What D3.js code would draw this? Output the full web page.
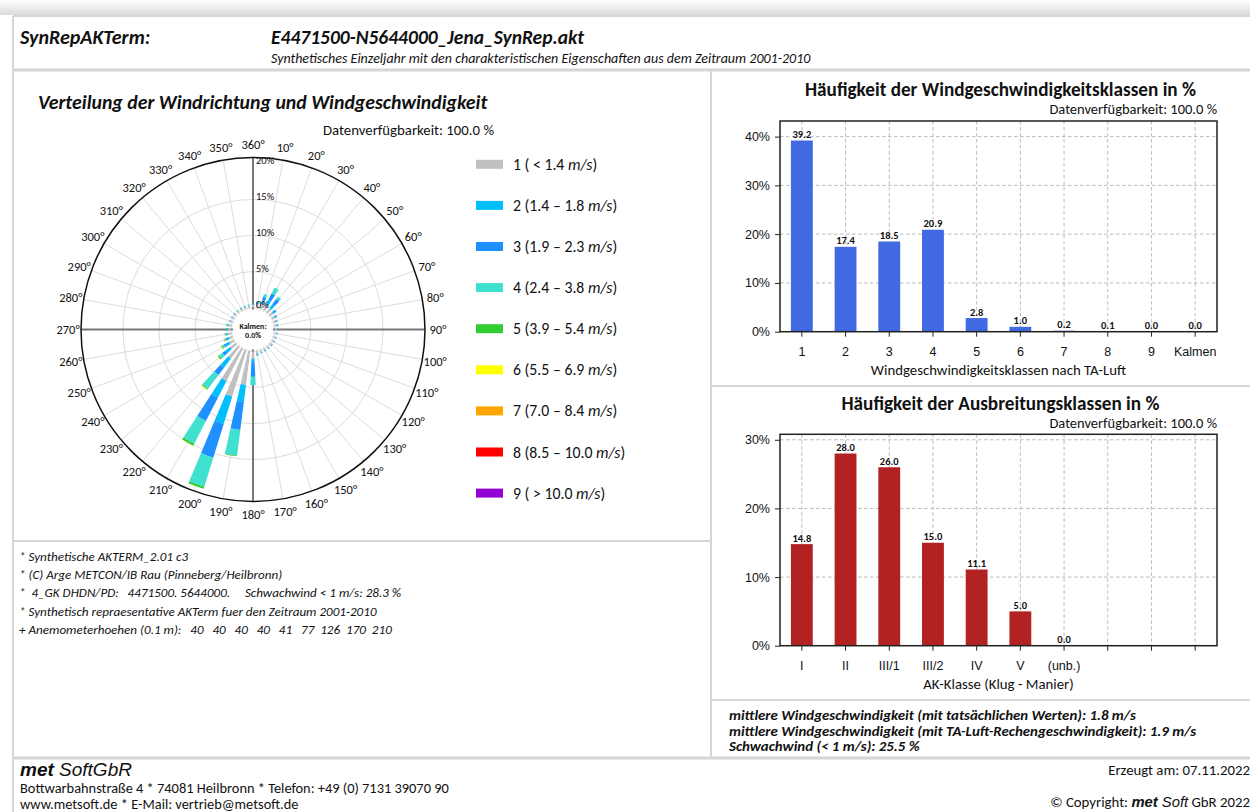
<!DOCTYPE html>
<html>
<head>
<meta charset="utf-8">
<script src="https://cdn.jsdelivr.net/npm/d3@7"></script>
<style>
	body { margin: 0; background: #fff; }
	svg { display: block; font-family: Carlito, Lato, 'Open Sans', sans-serif; }
	text { fill: #111; }
	.pre { white-space: pre; }
</style>
</head>
<body>
<svg id="seite" width="1250" height="812"></svg>
<script>
/* global d3 */

// Windrichtungen (Sektormitte in Grad)
var richtungen = [0, 10, 20, 30, 40, 50, 60, 70, 80, 90, 100, 110, 120, 130, 140, 150, 160, 170, 180, 190, 200, 210, 220, 230, 240, 250, 260, 270, 280, 290, 300, 310, 320, 330, 340, 350];
// Anteil je Richtung und Geschwindigkeitsklasse in %
var klasse1 = [0.4, 0.5, 0.7, 0.8, 0.7, 0.5, 0.4, 0.3, 0.3, 0.3, 0.3, 0.3, 0.3, 0.3, 0.3, 0.3, 0.35, 0.4, 1.0, 4.7, 6.7, 5.0, 2.0, 1.0, 0.7, 0.5, 0.5, 0.4, 0.4, 0.35, 0.3, 0.3, 0.3, 0.3, 0.3, 0.35];
var klasse2 = [0.15, 0.25, 0.5, 0.8, 0.7, 0.3, 0.2, 0.15, 0.15, 0.1, 0.1, 0.1, 0.1, 0.1, 0.1, 0.1, 0.1, 0.15, 0.5, 2.4, 4.0, 2.6, 1.6, 0.8, 0.5, 0.3, 0.2, 0.15, 0.1, 0.1, 0.1, 0.1, 0.1, 0.1, 0.1, 0.1];
var klasse3 = [0.05, 0.1, 0.5, 1.0, 0.9, 0.2, 0.1, 0.05, 0.05, 0, 0, 0, 0, 0, 0, 0, 0, 0.05, 2.0, 3.9, 4.9, 3.65, 1.3, 0.5, 0.3, 0.15, 0.05, 0.05, 0.05, 0, 0, 0, 0, 0, 0, 0];
var klasse4 = [0, 0.05, 0.4, 0.9, 0.4, 0.1, 0, 0, 0, 0, 0, 0, 0, 0, 0, 0, 0, 0, 1.2, 3.6, 4.2, 3.55, 2.4, 0.6, 0.3, 0.1, 0.1, 0.05, 0.1, 0, 0, 0, 0, 0, 0, 0];
var klasse5 = [0, 0, 0, 0, 0, 0, 0, 0, 0, 0, 0, 0, 0, 0, 0, 0, 0, 0, 0, 0.1, 0.3, 0.3, 0.15, 0.2, 0.15, 0.05, 0.05, 0.05, 0.07, 0, 0, 0, 0, 0, 0, 0];
var klasse6 = [0, 0, 0, 0, 0, 0, 0, 0, 0, 0, 0, 0, 0, 0, 0, 0, 0, 0, 0, 0, 0, 0.05, 0.1, 0.05, 0.1, 0.05, 0, 0, 0, 0, 0, 0, 0, 0, 0, 0];
var klasse7 = [0, 0, 0, 0, 0, 0, 0, 0, 0, 0, 0, 0, 0, 0, 0, 0, 0, 0, 0, 0, 0, 0, 0, 0, 0, 0.05, 0.05, 0, 0, 0, 0, 0, 0, 0, 0, 0];
var klasse8 = [0, 0, 0, 0, 0, 0, 0, 0, 0, 0, 0, 0, 0, 0, 0, 0, 0, 0, 0, 0, 0, 0, 0, 0, 0, 0.03, 0, 0, 0, 0, 0, 0, 0, 0, 0, 0];
var klasse9 = [0, 0, 0, 0, 0, 0, 0, 0, 0, 0, 0, 0, 0, 0, 0, 0, 0, 0, 0, 0, 0, 0, 0, 0, 0, 0, 0, 0, 0, 0, 0, 0, 0, 0, 0, 0];
var klassenFarben = ['#c0c0c0', '#00bfff', '#1e90ff', '#40e0d0', '#32cd32', '#ffff00', '#ffa500', '#ff0000', '#9400d3'];
var klassenNamen = [['1 ( < 1.4 ', 'm/s', ')'], ['2 (1.4 \u2013 1.8 ', 'm/s', ')'], ['3 (1.9 \u2013 2.3 ', 'm/s', ')'], ['4 (2.4 \u2013 3.8 ', 'm/s', ')'], ['5 (3.9 \u2013 5.4 ', 'm/s', ')'], ['6 (5.5 \u2013 6.9 ', 'm/s', ')'], ['7 (7.0 \u2013 8.4 ', 'm/s', ')'], ['8 (8.5 \u2013 10.0 ', 'm/s', ')'], ['9 ( > 10.0 ', 'm/s', ')']];
var roseRinge = [0, 5, 10, 15, 20];

// Balkendiagramme
var wgKlassen = ['1', '2', '3', '4', '5', '6', '7', '8', '9', 'Kalmen'];
var wgWerte = [39.2, 17.4, 18.5, 20.9, 2.8, 1.0, 0.2, 0.1, 0.0, 0.0];
var wgTicks = [0, 10, 20, 30, 40];
var akKlassen = ['I', 'II', 'III/1', 'III/2', 'IV', 'V', '(unb.)', '', '', ''];
var akWerte = [14.8, 28.0, 26.0, 15.0, 11.1, 5.0, 0.0];
var akTicks = [0, 10, 20, 30];

// Texte
var notizen = [
	'* Synthetische AKTERM_2.01 c3',
	'* (C) Arge METCON/IB Rau (Pinneberg/Heilbronn)',
	'*  4_GK DHDN/PD:   4471500. 5644000.     Schwachwind < 1 m/s: 28.3 %',
	'* Synthetisch repraesentative AKTerm fuer den Zeitraum 2001-2010',
	'+ Anemometerhoehen (0.1 m):   40   40   40   40   41   77  126  170  210'
];
var kennwerte = [
	'mittlere Windgeschwindigkeit (mit tats\u00e4chlichen Werten): 1.8 m/s',
	'mittlere Windgeschwindigkeit (mit TA-Luft-Rechengeschwindigkeit): 1.9 m/s',
	'Schwachwind (< 1 m/s): 25.5 %'
];

var svg = d3.select('#seite');

/* Rahmen und Trennlinien */
var defs = svg.append('defs');
var grad = defs.append('linearGradient').attr('id', 'schatten').attr('x1', 0).attr('x2', 0).attr('y1', 0).attr('y2', 1);
grad.append('stop').attr('offset', '0%').attr('stop-color', '#ffffff');
grad.append('stop').attr('offset', '100%').attr('stop-color', '#dadada');
svg.append('rect').attr('x', 0).attr('y', 0).attr('width', 1250).attr('height', 15).attr('fill', 'url(#schatten)');
var linien = [
	[13, 16, 1250, 16, 2], [13, 16, 13, 812, 2], [13, 70, 1250, 70, 3], [711, 70, 711, 758, 2],
	[13, 541, 711, 541, 2], [711, 386, 1250, 386, 2], [711, 700, 1250, 700, 2], [13, 758, 1250, 758, 3]
];
svg.append('g').selectAll('line').data(linien).enter().append('line')
	.attr('x1', d => d[0]).attr('y1', d => d[1]).attr('x2', d => d[2]).attr('y2', d => d[3])
	.attr('stroke', '#d6d6d6').attr('stroke-width', d => d[4]);

/* Kopf */
svg.append('text').attr('x', 20).attr('y', 43.5).attr('font-size', 20).attr('font-weight', 'bold').attr('font-style', 'italic').text('SynRepAKTerm:');
svg.append('text').attr('x', 271).attr('y', 43.5).attr('font-size', 19.5).attr('font-weight', 'bold').attr('font-style', 'italic').text('E4471500-N5644000_Jena_SynRep.akt');
svg.append('text').attr('x', 271).attr('y', 62.5).attr('font-size', 14).attr('font-style', 'italic').text('Synthetisches Einzeljahr mit den charakteristischen Eigenschaften aus dem Zeitraum 2001-2010');

/* Windrose */
var cx = 253, cy = 329.5, rAussen = 172;
var rScale = d3.scaleLinear().domain([0, 20]).range([22, 166]);
var rose = svg.append('g').attr('transform', 'translate(' + cx + ',' + cy + ')');
svg.append('text').attr('x', 38).attr('y', 108.5).attr('font-size', 19.8).attr('font-weight', 'bold').attr('font-style', 'italic').text('Verteilung der Windrichtung und Windgeschwindigkeit');
svg.append('text').attr('x', 494).attr('y', 134.5).attr('text-anchor', 'end').attr('font-size', 14.8).text('Datenverf\u00fcgbarkeit: 100.0 %');

rose.selectAll('.ring').data(roseRinge.slice(0, 4)).enter().append('circle')
	.attr('r', d => rScale(d)).attr('fill', 'none').attr('stroke', '#dcdcdc').attr('stroke-width', 1);
rose.selectAll('.speiche').data(richtungen).enter().append('line')
	.attr('x1', 0).attr('y1', 0)
	.attr('x2', d => rAussen * Math.sin(d * Math.PI / 180)).attr('y2', d => -rAussen * Math.cos(d * Math.PI / 180))
	.attr('stroke', '#dcdcdc').attr('stroke-width', 1);
rose.selectAll('.achse').data([0, 90]).enter().append('line')
	.attr('x1', d => -rAussen * Math.sin(d * Math.PI / 180)).attr('y1', d => rAussen * Math.cos(d * Math.PI / 180))
	.attr('x2', d => rAussen * Math.sin(d * Math.PI / 180)).attr('y2', d => -rAussen * Math.cos(d * Math.PI / 180))
	.attr('stroke', '#777').attr('stroke-width', 2);
rose.append('circle').attr('r', rAussen).attr('fill', 'none').attr('stroke', '#111').attr('stroke-width', 1.5);

// gestapelte Sektoren
var klassen = [klasse1, klasse2, klasse3, klasse4, klasse5, klasse6, klasse7, klasse8, klasse9];
var sektoren = [];
richtungen.forEach(function (dir, i) {
	var summe = 0;
	klassen.forEach(function (werte, k) {
		if (werte[i] > 0) {
			sektoren.push({dir: dir, von: summe, bis: summe + werte[i], k: k});
		}
		summe += werte[i];
	});
});
var halbBreite = 2.8 * Math.PI / 180;
var arc = d3.arc()
	.innerRadius(d => rScale(d.von)).outerRadius(d => rScale(d.bis))
	.startAngle(d => d.dir * Math.PI / 180 - halbBreite).endAngle(d => d.dir * Math.PI / 180 + halbBreite);
rose.selectAll('.sektor').data(sektoren).enter().append('path')
	.attr('d', arc).attr('fill', d => klassenFarben[d.k]);

// Kalmen-Loch
rose.append('circle').attr('r', 20).attr('fill', '#fff');
rose.append('text').attr('y', -1).attr('text-anchor', 'middle').attr('font-size', 8).attr('font-weight', 'bold').text('Kalmen:');
rose.append('text').attr('y', 8.5).attr('text-anchor', 'middle').attr('font-size', 8).attr('font-weight', 'bold').text('0.0%');

// Beschriftungen
rose.selectAll('.rlabel').data(roseRinge).enter().append('text')
	.attr('x', 3).attr('y', d => -rScale(d) - 3).attr('dy', '0.35em')
	.attr('font-size', 10.5).attr('fill', '#333').text(d => d + '%');
rose.selectAll('.wlabel').data(richtungen).enter().append('text')
	.attr('x', d => 185 * Math.sin(d * Math.PI / 180)).attr('y', d => -185 * Math.cos(d * Math.PI / 180))
	.attr('dy', '0.35em').attr('text-anchor', 'middle').attr('font-size', 12.5)
	.text(d => (d === 0 ? 360 : d) + '\u00b0');

// Legende
var legende = svg.append('g').selectAll('g').data(klassenNamen).enter().append('g')
	.attr('transform', (d, i) => 'translate(476,' + (164.3 + i * 41.1) + ')');
legende.append('rect').attr('x', 0).attr('y', -4.5).attr('width', 27).attr('height', 9).attr('fill', (d, i) => klassenFarben[i]);
var lt = legende.append('text').attr('x', 37).attr('y', 5.5).attr('font-size', 15.8);
lt.append('tspan').text(d => d[0]);
lt.append('tspan').attr('font-style', 'italic').text(d => d[1]);
lt.append('tspan').text(d => d[2]);

/* Notizen */
svg.append('g').selectAll('text').data(notizen).enter().append('text')
	.attr('class', 'pre').attr('x', 19).attr('y', (d, i) => 561 + i * 18.2)
	.attr('font-size', 13.1).attr('font-style', 'italic').text(d => d);

/* zeichneBalken: Balkendiagramm mit Gitter und Werten */
function zeichneBalken (o) {
	var g = svg.append('g');
	var x = d3.scaleBand().domain(d3.range(o.kategorien.length)).range([o.x0, o.x1]).paddingInner(0.5).paddingOuter(0.25);
	var y = d3.scaleLinear().domain([0, o.yMax]).range([o.y1, o.y0]);
	g.append('text').attr('x', (o.x0 + o.x1) / 2 + 2).attr('y', o.titelY).attr('text-anchor', 'middle')
		.attr('font-size', 19.2).attr('font-weight', 'bold').text(o.titel);
	g.append('text').attr('x', o.x1).attr('y', o.titelY + 17.5).attr('text-anchor', 'end').attr('font-size', 14.5).text('Datenverf\u00fcgbarkeit: 100.0 %');
	// Gitter
	g.selectAll('.gx').data(o.kategorien.map((d, i) => i)).enter().append('line')
		.attr('x1', d => x(d) + x.bandwidth() / 2).attr('x2', d => x(d) + x.bandwidth() / 2)
		.attr('y1', o.y0).attr('y2', o.y1)
		.attr('stroke', '#b4b4b4').attr('stroke-width', 0.9).attr('stroke-dasharray', '3.5,2.5');
	g.selectAll('.gy').data(o.ticks).enter().append('line')
		.attr('x1', o.x0).attr('x2', o.x1).attr('y1', d => y(d)).attr('y2', d => y(d))
		.attr('stroke', '#b4b4b4').attr('stroke-width', 0.9).attr('stroke-dasharray', '3.5,2.5');
	// Balken
	g.selectAll('.balken').data(o.werte).enter().append('rect')
		.attr('x', (d, i) => x(i)).attr('width', x.bandwidth())
		.attr('y', d => y(d)).attr('height', d => o.y1 - y(d)).attr('fill', o.farbe);
	g.selectAll('.wert').data(o.werte).enter().append('text')
		.attr('x', (d, i) => x(i) + x.bandwidth() / 2).attr('y', d => y(d) - 2.5)
		.attr('text-anchor', 'middle').attr('font-size', 10.5).attr('font-weight', 'bold').text(d => d.toFixed(1));
	// Achsen
	var xAchse = g.append('g').attr('transform', 'translate(0,' + o.y1 + ')')
		.call(d3.axisBottom(x).tickSize(5).tickSizeOuter(0).tickPadding(10).tickFormat(i => o.kategorien[i]));
	var yAchse = g.append('g').attr('transform', 'translate(' + o.x0 + ',0)')
		.call(d3.axisLeft(y).tickValues(o.ticks).tickSize(5).tickSizeOuter(0).tickPadding(5).tickFormat(d => d + '%'));
	[xAchse, yAchse].forEach(function (a) {
		a.select('.domain').remove();
		a.selectAll('line').attr('stroke', '#222');
		a.selectAll('text').attr('font-size', 12.5).attr('fill', '#222').style('font-family', null);
	});
	g.append('rect').attr('x', o.x0).attr('y', o.y0).attr('width', o.x1 - o.x0).attr('height', o.y1 - o.y0)
		.attr('fill', 'none').attr('stroke', '#222').attr('stroke-width', 1.5);
	g.append('text').attr('x', (o.x0 + o.x1) / 2).attr('y', o.y1 + 43).attr('text-anchor', 'middle')
		.attr('font-size', 14.8).attr('fill', '#222').text(o.xTitel);
}

zeichneBalken({
	kategorien: wgKlassen, werte: wgWerte, ticks: wgTicks, yMax: 43.2, farbe: '#4169e1',
	x0: 780, x1: 1217, y0: 121, y1: 331.7, titelY: 96,
	titel: 'H\u00e4ufigkeit der Windgeschwindigkeitsklassen in %', xTitel: 'Windgeschwindigkeitsklassen nach TA-Luft'
});
zeichneBalken({
	kategorien: akKlassen, werte: akWerte, ticks: akTicks, yMax: 30.8, farbe: '#b22222',
	x0: 780, x1: 1217, y0: 434.3, y1: 645.7, titelY: 410,
	titel: 'H\u00e4ufigkeit der Ausbreitungsklassen in %', xTitel: 'AK-Klasse (Klug - Manier)'
});

/* Kennwerte */
svg.append('g').selectAll('text').data(kennwerte).enter().append('text')
	.attr('x', 729).attr('y', (d, i) => 720 + i * 15.6)
	.attr('font-size', 14.9).attr('font-weight', 'bold').attr('font-style', 'italic').text(d => d);

/* Fuss */
var logo = svg.append('text').attr('x', 20).attr('y', 775.5).attr('font-size', 19).attr('font-family', 'Liberation Sans, Arial, sans-serif');
logo.append('tspan').attr('font-weight', 'bold').attr('font-style', 'italic').text('met');
logo.append('tspan').attr('font-style', 'italic').text(' SoftGbR');
svg.append('text').attr('x', 20).attr('y', 792.5).attr('font-size', 14.4).text('Bottwarbahnstra\u00dfe 4 * 74081 Heilbronn * Telefon: +49 (0) 7131 39070 90');
svg.append('text').attr('x', 20).attr('y', 808.5).attr('font-size', 14.4).text('www.metsoft.de * E-Mail: vertrieb@metsoft.de');
svg.append('text').attr('x', 1250).attr('y', 775).attr('text-anchor', 'end').attr('font-size', 14.8).text('Erzeugt am: 07.11.2022');
var copy = svg.append('text').attr('x', 1250).attr('y', 807).attr('text-anchor', 'end').attr('font-size', 14.8);
copy.append('tspan').text('\u00a9 Copyright: ');
copy.append('tspan').attr('font-weight', 'bold').attr('font-style', 'italic').attr('font-family', 'Liberation Sans, Arial, sans-serif').text('met');
copy.append('tspan').attr('font-style', 'italic').attr('font-family', 'Liberation Sans, Arial, sans-serif').text(' Soft');
copy.append('tspan').text(' GbR 2022');
</script>
</body>
</html>
